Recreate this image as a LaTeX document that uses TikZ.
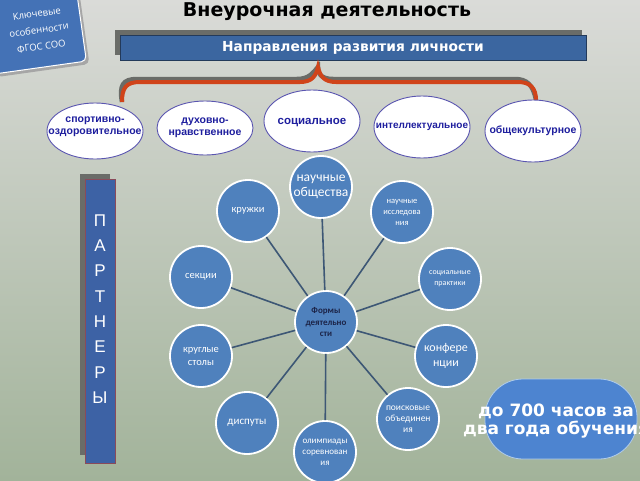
\documentclass[tikz,border=0pt]{standalone}
\usepackage{fontspec}
\setmainfont{Liberation Sans}
\newfontfamily\dejavu{DejaVu Sans}
\newfontfamily\opensans{Open Sans}
\newfontfamily\carlito{Carlito}
\usetikzlibrary{shapes.geometric}
\definecolor{bgtop}{HTML}{DADBD8}
\definecolor{bgmid}{HTML}{C3CABF}
\definecolor{bgbot}{HTML}{A2B39A}
\definecolor{badgeblue}{HTML}{4472B6}
\definecolor{bannerblue}{HTML}{3B66A0}
\definecolor{bannerline}{HTML}{233A5A}
\definecolor{shadowgrey}{HTML}{6A6C68}
\definecolor{bracered}{HTML}{D0441A}
\definecolor{ellline}{HTML}{5A55B0}
\definecolor{elltext}{HTML}{1E1E9E}
\definecolor{office}{HTML}{4F81BD}
\definecolor{spokecol}{HTML}{3D5775}
\definecolor{centertext}{HTML}{1C2448}
\definecolor{partblue}{HTML}{3D62A5}
\definecolor{partline}{HTML}{8A4A5A}
\definecolor{pillblue}{HTML}{4D84D0}
\definecolor{pillline}{HTML}{B0CCEA}
\tikzset{
  ell/.style={ellipse, draw=ellline, line width=0.9pt, fill=white, inner sep=0pt,
    minimum width=96pt, minimum height=56pt},
  elltxt/.style={text=elltext, font=\bfseries\fontsize{10.5}{12}\selectfont, align=center, inner sep=0pt},
  bub/.style={circle, fill=office, draw=white, line width=1.8pt, minimum size=62pt, inner sep=0pt,
    text=white, align=center, font=\carlito\fontsize{10.5}{13}\selectfont},
  spoke/.style={draw=spokecol, line width=1.6pt},
}
\begin{document}
\begin{tikzpicture}[x=1pt,y=-1pt]
\useasboundingbox (0,0) rectangle (640,480);
\clip (0,0) rectangle (640,480);
\shade[top color=bgtop, middle color=bgmid, bottom color=bgbot] (0,0) rectangle (640,480);

% badge
\node (badgeshadow) [rotate=8, fill=black!35, rounded corners=5pt, minimum width=94pt, minimum height=84pt] at (37,29) {};
\node (badge) [rotate=8, fill=badgeblue, draw=white, line width=1pt, rounded corners=5pt, minimum width=94pt, minimum height=84pt] at (34,26) {};
\node (badgetext) [rotate=8, text=white, align=center, font=\opensans\fontsize{9.5}{16.5}\selectfont] at (39,30) {Ключевые\\особенности\\ФГОС СОО};

% title
\node (title) [font=\dejavu\bfseries\fontsize{19}{21}\selectfont] at (327,12) {Внеурочная деятельность};

% banner
\node (bannershadow) [fill=shadowgrey, minimum width=467pt, minimum height=25pt, inner sep=0pt] at (348.5,42.5) {};
\node (banner) [fill=bannerblue, draw=bannerline, line width=0.8pt, minimum width=466pt, minimum height=25pt, inner sep=0pt] at (353,48) {};
\node (bannertext) [text=white, font=\dejavu\bfseries\fontsize{13.8}{15}\selectfont] at (353,48) {Направления развития личности};

% brace
\coordinate (bl) at (122,102);
\coordinate (br) at (536,100);
\coordinate (bt) at (318,67);
\draw[shadowgrey, line width=4.5pt, shift={(-3,-3)}]
  (bl) .. controls (122,88) and (126,82) .. (140,82) -- (300,82)
  .. controls (312,82) and (316,76) .. (bt)
  .. controls (320,76) and (324,82) .. (336,82) -- (518,82)
  .. controls (530,82) and (536,88) .. (br);
\draw[bracered, line width=4pt]
  (bl) .. controls (122,88) and (126,82) .. (140,82) -- (300,82)
  .. controls (312,82) and (316,76) .. (bt)
  .. controls (320,76) and (324,82) .. (336,82) -- (518,82)
  .. controls (530,82) and (536,88) .. (br);

% ellipses
\node (e1) [ell] at (95,131) {};
\node (e1t) [elltxt] at (95,127) {спортивно-\\оздоровительное};
\node (e2) [ell, minimum height=54pt] at (205,128) {};
\node (e2t) [elltxt] at (205,128) {духовно-\\нравственное};
\node (e3) [ell, minimum height=62pt] at (312,121) {};
\node (e3t) [elltxt, font=\bfseries\fontsize{11.5}{13}\selectfont] at (312,123) {социальное};
\node (e4) [ell, minimum height=62pt] at (422,127) {};
\node (e4t) [elltxt, font=\bfseries\fontsize{10}{12}\selectfont] at (422,127) {интеллектуальное};
\node (e5) [ell, minimum height=62pt] at (533,131) {};
\node (e5t) [elltxt] at (533,131) {общекультурное};

% partners
\node (partshadow) [fill=shadowgrey, minimum width=30pt, minimum height=281pt, inner sep=0pt] at (95,314.5) {};
\node (part) [fill=partblue, draw=partline, line width=0.8pt, minimum width=30pt, minimum height=284pt, inner sep=0pt] at (100,321) {};
\node (parttext) [text=white, align=center, font=\fontsize{17}{25.3}\selectfont] at (100,309) {П\\А\\Р\\Т\\Н\\Е\\Р\\Ы};

% forms of activity
\node (c) [bub, text=centertext, font=\carlito\bfseries\fontsize{9}{11.5}\selectfont] at (326,322) {Формы\\деятельно\\сти};
\node (n1) [bub, font=\carlito\fontsize{13.5}{15}\selectfont] at (321,187) {научные\\общества};
\node (n2) [bub] at (248,211) {кружки};
\node (n3) [bub, font=\carlito\fontsize{8.5}{11}\selectfont] at (402,212) {научные\\исследова\\ния};
\node (n4) [bub] at (201,277) {секции};
\node (n5) [bub, font=\carlito\fontsize{8}{11}\selectfont] at (450,279) {социальные\\практики};
\node (n6) [bub] at (201,356) {круглые\\столы};
\node (n7) [bub, font=\carlito\fontsize{12}{15}\selectfont] at (446,356) {конфере\\нции};
\node (n8) [bub, font=\carlito\fontsize{11}{13}\selectfont] at (247,423) {диспуты};
\node (n9) [bub, font=\carlito\fontsize{9}{11}\selectfont] at (325,452) {олимпиады\\соревнован\\ия};
\node (n10) [bub, font=\carlito\fontsize{9.5}{11}\selectfont] at (408,419) {поисковые\\объединен\\ия};
\foreach \n in {n1,n2,n3,n4,n5,n6,n7,n8,n9,n10} {\draw[spoke] (c) -- (\n);}

% hours pill
\node (pill) [fill=pillblue, draw=pillline, line width=0.8pt, rounded corners=38pt, minimum width=152pt, minimum height=80pt, inner sep=0pt] at (561,419) {};
\node (hours) [text=white, align=center, font=\dejavu\bfseries\fontsize{17}{18}\selectfont] at (556,421) {до 700 часов за\\два года обучения};
\end{tikzpicture}
\end{document}
